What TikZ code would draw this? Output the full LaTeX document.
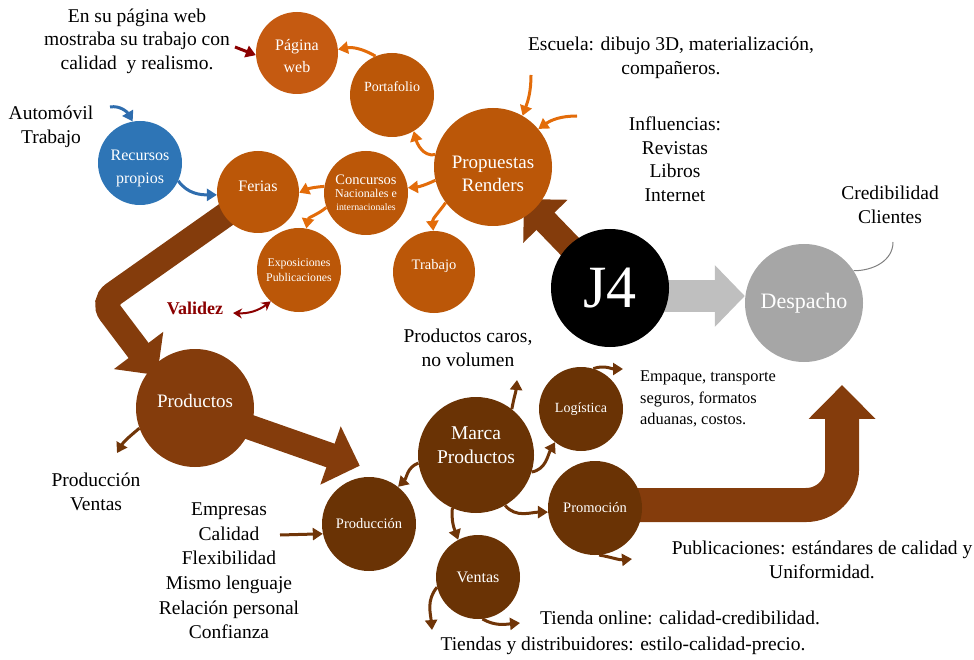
\documentclass[tikz,border=0pt]{standalone}
\usepackage{fontspec}
\setmainfont{Liberation Serif}
\usetikzlibrary{arrows.meta,calc}

\definecolor{webor}{HTML}{C55A11}
\definecolor{clusor}{HTML}{BB5708}
\definecolor{lightor}{HTML}{E36C0A}
\definecolor{bigbrown}{HTML}{843C0C}
\definecolor{darkbrown}{HTML}{6A3305}
\definecolor{arrbrown}{HTML}{703508}
\definecolor{recblue}{HTML}{2E75B6}
\definecolor{arrblue}{HTML}{2F6DAE}
\definecolor{darkred}{HTML}{8B0000}
\definecolor{despgray}{HTML}{A6A6A6}
\definecolor{arrgray}{HTML}{BFBFBF}
\definecolor{linegray}{HTML}{808080}

\pgfdeclarelayer{bg}
\pgfsetlayers{bg,main}

\newcommand{\fsz}[2]{\fontsize{#1}{#2}\selectfont}

\begin{document}
\begin{tikzpicture}[x=1pt,y=1pt,
  bubble/.style={circle,inner sep=0pt,text=white,align=center},
  intext/.style={inner sep=0pt,text=white,align=center},
  lbl/.style={align=center,inner sep=0pt,font=\fsz{19.5}{23.5}},
  bigarrow/.style={line width=25pt,draw=bigbrown,-{Triangle[width=60pt,length=31pt]}},
  thin/.style={line width=3pt,-{Triangle[length=10pt,width=12pt]}},
  oarrow/.style={thin,draw=lightor},
  barrow/.style={thin,draw=arrblue},
  darrow/.style={thin,draw=arrbrown},
  rarrow/.style={thin,draw=darkred}]

\useasboundingbox (0,0) rectangle (974,-660);

% ---- circles ----
\node[bubble,fill=webor,minimum size=82pt] (pweb) at (297,-53) {};
\node[bubble,fill=clusor,minimum size=84pt] (port) at (392,-95) {};
\node[bubble,fill=clusor,minimum size=118pt] (prop) at (493,-167) {};
\node[bubble,fill=clusor,minimum size=84pt] (conc) at (366,-193)
  {\fsz{14.5}{15}Concursos\\[1pt]\fsz{12}{13}Nacionales e\\[1pt]\fsz{9.8}{11}internacionales};
\node[bubble,fill=clusor,minimum size=82pt] (ferias) at (258,-192) {};
\node[bubble,fill=recblue,minimum size=84pt] (rec) at (140,-163) {};
\node[bubble,fill=clusor,minimum size=84pt,font=\fsz{11.8}{15}] (expo) at (299,-270) {Exposiciones\\Publicaciones};
\node[bubble,fill=clusor,minimum size=82pt] (trab) at (434,-272) {};
\node[bubble,fill=black,minimum size=118pt,font=\fsz{60}{60}] (j4) at (610,-288) {J4};
\node[bubble,fill=despgray,minimum size=118pt,font=\fsz{22}{24}] (desp) at (804,-303) {Despacho};
\node[bubble,fill=bigbrown,minimum size=118pt] (prods) at (195,-408) {};
\node[bubble,fill=darkbrown,minimum size=94pt,font=\fsz{14.5}{16}] (produc) at (369,-524) {Producción};
\node[bubble,fill=darkbrown,minimum size=116pt] (marca) at (476,-455) {};
\node[bubble,fill=darkbrown,minimum size=84pt,font=\fsz{14}{16}] (log) at (581,-409) {Logística};
\node[bubble,fill=darkbrown,minimum size=94pt,font=\fsz{14.5}{16}] (promo) at (595,-508) {Promoción};
\node[bubble,fill=darkbrown,minimum size=84pt,font=\fsz{16}{18}] (ventas) at (478,-577) {Ventas};

% ---- circle captions set off the centre ----
\node[intext,font=\fsz{16}{22}] (pweb-t) at ([yshift=-3pt]pweb.center) {Página\\web};
\node[intext,font=\fsz{14}{16}] (port-t) at ([yshift=8pt]port.center) {Portafolio};
\node[intext,font=\fsz{19}{23}] (prop-t) at ([yshift=-7pt]prop.center) {Propuestas\\Renders};
\node[intext,font=\fsz{16}{18}] (ferias-t) at ([yshift=6pt]ferias.center) {Ferias};
\node[intext,font=\fsz{16}{23}] (rec-t) at ([yshift=-5pt]rec.center) {Recursos\\propios};
\node[intext,font=\fsz{14.5}{16}] (trab-t) at ([yshift=6pt]trab.center) {Trabajo};
\node[intext,font=\fsz{19}{22}] (prods-t) at ([yshift=7pt]prods.center) {Productos};
\node[intext,font=\fsz{19.5}{24}] (marca-t) at ([yshift=10pt]marca.center) {Marca\\Productos};

% ---- text labels ----
\node[lbl] (twebtxt) at (137,-41) {En su página web\\mostraba su trabajo con\\calidad~ y realismo.};
\node[lbl] (tauto) at (51,-127) {Automóvil\\Trabajo};
\node[lbl] (tesc) at (671,-58) {Escuela: dibujo 3D, materialización,\\compañeros.};
\node[lbl] (tinfl) at (675,-159) {Influencias:\\Revistas\\Libros\\Internet};
\node[lbl] (tcred) at (890,-205) {Credibilidad\\Clientes};
\node[lbl,font=\bfseries\fsz{18}{22},text=darkred] (tval) at (195,-308) {Validez};
\node[lbl] (tcaros) at (468,-348) {Productos caros,\\no volumen};
\node[lbl] (tprodv) at (96,-492) {Producción\\Ventas};
\node[lbl,font=\fsz{19.5}{24.6}] (tempr) at (229,-571) {Empresas\\Calidad\\Flexibilidad\\Mismo lenguaje\\Relación personal\\Confianza};
\node[lbl,align=left,anchor=west,font=\fsz{16.4}{21.5}] (tempq) at (640,-399) {Empaque, transporte\\seguros, formatos\\aduanas, costos.};
\node[lbl] (tpub) at (822,-560) {Publicaciones: estándares de calidad y\\Uniformidad.};
\node[lbl] (tonline) at (680,-618) {Tienda online: calidad-credibilidad.};
\node[lbl] (tdistr) at (623,-646) {Tiendas y distribuidores: estilo-calidad-precio.};

% ---- free ends of the small connectors ----
\coordinate (webtxt) at (235,-47);
\coordinate (esc) at (531,-75);
\coordinate (infl) at (577,-116);
\coordinate (auto) at (110,-107);
\coordinate (valE) at (233,-313);
\coordinate (cred) at (893,-242);
\coordinate (caros) at (517,-380);
\coordinate (empq) at (623,-369);
\coordinate (pubs) at (632,-559);
\coordinate (tdist) at (432,-630);
\coordinate (tonl) at (520,-623);
\coordinate (empr) at (280,-535);
\coordinate (prodv) at (117,-453);
\coordinate (fbend) at (102,-302);

% ---- wide arrows, behind the circles ----
\begin{pgfonlayer}{bg}
  \draw[bigarrow,rounded corners=14pt] (ferias.center) -- (fbend) -- ($(prods.center)+(139:50)$);
  \draw[bigarrow] (prods.center) -- ($(produc.center)+(99:59)$);
  \draw[bigarrow] (j4.center) -- ($(prop.center)+(-46:44.5)$);
  \draw[line width=32pt,draw=arrgray,-{Triangle[width=60pt,length=30pt]}]
    ([yshift=-8pt]j4.center) -- ([yshift=7pt]desp.west);
  \draw[line width=34pt,draw=bigbrown,rounded corners=36pt,-{Triangle[width=65pt,length=34pt]}]
    ([yshift=3pt]promo.center) -| ($(desp.center)+(-65.1:90.4)$);
\end{pgfonlayer}

% ---- top cluster connectors ----
\draw[oarrow] (port.113) to[out=150,in=10] (pweb.5);
\draw[oarrow] (prop.168) to[out=190,in=-75] (port.-59);
\draw[oarrow] (prop.193) to[bend left=10] (conc.7);
\draw[oarrow] (prop.217) to[out=235,in=95] (trab.91);
\draw[oarrow] (conc.171) to[bend right=10] (ferias.-1);
\draw[oarrow] (conc.200) to[out=220,in=80] (expo.80);
\draw[oarrow] (esc) to[out=-90,in=70] (prop.60);
\draw[oarrow] (infl) to[out=180,in=35] (prop.40);

\draw[barrow] (auto) to[out=10,in=120] (rec.100);
\draw[barrow] (rec.-25) to[out=-55,in=180] (ferias.184);

\draw[rarrow] (webtxt) -- (pweb.183);
\draw[line width=2pt,draw=darkred,{Stealth[length=9pt,width=10pt]}-{Stealth[length=9pt,width=10pt]}]
  (valE) to[bend right=20] (expo.228);

\draw[linegray,line width=1pt] (cred) to[out=-90,in=0] (desp.33);

% ---- bottom cluster connectors ----
\draw[darrow] (marca.52) to[out=80,in=-95] (caros);
\draw[darrow] (marca.-17) to[out=10,in=240] (log.232);
\draw[darrow] (marca.188) to[out=200,in=45] (produc.52);
\draw[darrow] (marca.-114) to[out=-95,in=110] (ventas.118);
\draw[darrow] (marca.-60) to[out=-50,in=180] (promo.185);
\draw[darrow] (log.73) to[out=20,in=180] (empq);
\draw[darrow] (promo.-85) to[out=-10,in=185] (pubs);
\draw[darrow] (ventas.194) to[out=230,in=95] (tdist);
\draw[darrow] (ventas.-84) to[out=-30,in=185] (tonl);
\draw[darrow] (empr) -- (produc.192);
\draw[darrow] (prods.200) to[out=220,in=60] (prodv);

\end{tikzpicture}
\end{document}
